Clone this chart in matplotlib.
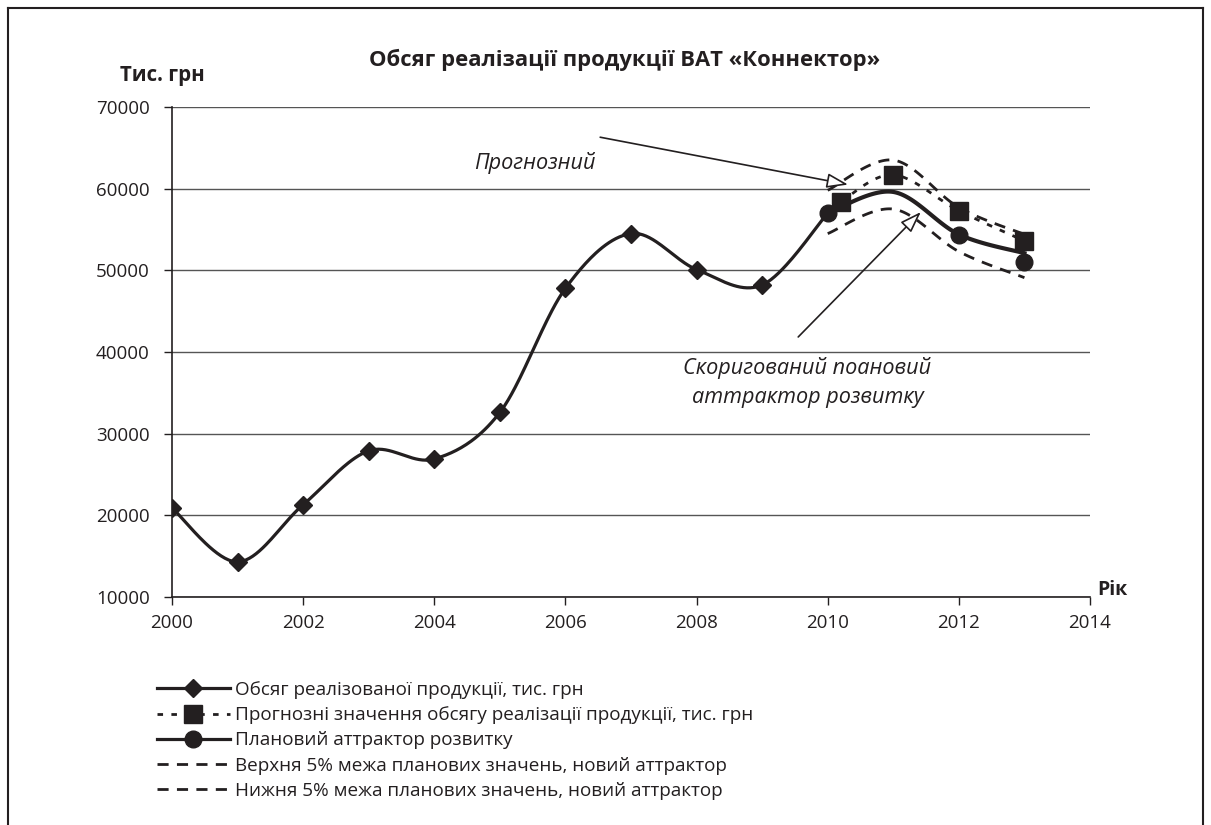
import numpy as np
import matplotlib
matplotlib.use('Agg')
import matplotlib.pyplot as plt
from matplotlib.lines import Line2D

plt.rcParams['font.family'] = ['Open Sans', 'DejaVu Sans']

INK = '#231f20'

# historical sales, thousand UAH
hist_years = [2000, 2001, 2002, 2003, 2004, 2005, 2006, 2007, 2008, 2009, 2010]
hist_vals = [20900, 14300, 21300, 27900, 26900, 32600, 47800, 54500, 50100, 48200, 57000]

# forecast values (squares)
fc_years = [2010.2, 2011, 2012, 2013]
fc_vals = [58400, 61700, 57300, 53600]

# corrected attractor line and planned attractor points
attr_years = [2010, 2011, 2012, 2013]
attr_vals = [57000, 59600, 54400, 52100]
plan_years = [2010, 2012, 2013]
plan_vals = [57000, 54300, 51000]

# 5% bounds
bound_years = [2010, 2011, 2012, 2013]
upper_vals = [59800, 63500, 57700, 54400]
lower_vals = [54500, 57500, 52300, 49100]

x_ticks = [2000, 2002, 2004, 2006, 2008, 2010, 2012, 2014]
y_ticks = [10000, 20000, 30000, 40000, 50000, 60000, 70000]

legend_labels = [
    'Обсяг реалізованої продукції, тис. грн',
    'Прогнозні значення обсягу реалізації продукції, тис. грн',
    'Плановий аттрактор розвитку',
    'Верхня 5% межа планових значень, новий аттрактор',
    'Нижня 5% межа планових значень, новий аттрактор',
]


def smooth(x, y, n=40):
    # excel-like smoothed line (catmull-rom bezier)
    x = np.asarray(x, float)
    y = np.asarray(y, float)
    px = np.concatenate([[x[0]], x, [x[-1]]])
    py = np.concatenate([[y[0]], y, [y[-1]]])
    t = np.linspace(0, 1, n)
    xs, ys = [], []
    for i in range(1, len(px) - 2):
        p0 = np.array([px[i], py[i]])
        p3 = np.array([px[i + 1], py[i + 1]])
        c1 = p0 + (np.array([px[i + 1], py[i + 1]]) - np.array([px[i - 1], py[i - 1]])) / 6
        c2 = p3 - (np.array([px[i + 2], py[i + 2]]) - np.array([px[i], py[i]])) / 6
        b = ((1 - t) ** 3)[:, None] * p0 + (3 * (1 - t) ** 2 * t)[:, None] * c1 \
            + (3 * (1 - t) * t ** 2)[:, None] * c2 + (t ** 3)[:, None] * p3
        xs.append(b[:, 0])
        ys.append(b[:, 1])
    return np.concatenate(xs), np.concatenate(ys)


fig = plt.figure(figsize=(12.11, 8.25), dpi=100)
ax = fig.add_axes([172 / 1211, 1 - 597 / 825, 918 / 1211, 490 / 825])

for yv in y_ticks:
    ax.axhline(yv, color='#555555', lw=1.0, zorder=1)

sx, sy = smooth(hist_years, hist_vals)
ax.plot(sx, sy, color=INK, lw=2.3, zorder=3)
ax.plot(hist_years[:-1], hist_vals[:-1], 'D', color=INK, ms=9, zorder=4)

sx, sy = smooth(attr_years, attr_vals)
ax.plot(sx, sy, color=INK, lw=3.0, zorder=3)
ax.plot(plan_years, plan_vals, 'o', color=INK, ms=12, zorder=4)

sx, sy = smooth(bound_years, upper_vals)
ax.plot(sx, sy, color=INK, lw=2.0, dashes=(4, 3), zorder=3)
sx, sy = smooth(bound_years, lower_vals)
ax.plot(sx, sy, color=INK, lw=2.0, dashes=(4, 3), zorder=3)

sx, sy = smooth(fc_years, fc_vals)
ax.plot(sx, sy, color=INK, lw=2.0, dashes=(2, 3), zorder=3)
ax.plot(fc_years, fc_vals, 's', color=INK, ms=13, zorder=5)

ax.set_xlim(2000, 2014)
ax.set_ylim(10000, 70000)
ax.set_xticks(x_ticks)
ax.set_yticks(y_ticks)
ax.tick_params(axis='both', direction='out', length=6, width=1, color=INK,
               labelsize=13.5, labelcolor=INK)
ax.tick_params(axis='x', pad=6)
ax.tick_params(axis='y', pad=10)
for s in ['top', 'right']:
    ax.spines[s].set_visible(False)
for s in ['left', 'bottom']:
    ax.spines[s].set_color(INK)
    ax.spines[s].set_linewidth(1.2)

arrow = dict(arrowstyle='-|>,head_length=1.3,head_width=0.45', fc='white', ec=INK, lw=1.2,
             shrinkA=0, shrinkB=0)
ax.annotate('', xy=(2010.31, 60500), xytext=(2006.53, 66300), arrowprops=arrow, zorder=6)
ax.annotate('', xy=(2011.42, 57140), xytext=(2009.55, 41840), arrowprops=arrow, zorder=6)
ax.text(2005.54, 63100, 'Прогнозний', style='italic', fontsize=15.6, color=INK,
        ha='center', va='center')
ax.text(2009.69, 36260, 'Скоригований поановий\nаттрактор розвитку', style='italic',
        fontsize=15.6, color=INK, ha='center', va='center', linespacing=1.45)

fig.text(625 / 1211, 1 - 60 / 825, 'Обсяг реалізації продукції ВАТ «Коннектор»',
         fontsize=15.8, fontweight='bold', color=INK, ha='center', va='center')
fig.text(120 / 1211, 1 - 75 / 825, 'Тис. грн', fontsize=14.8, fontweight='bold', color=INK,
         ha='left', va='center')
fig.text(1097 / 1211, 1 - 590 / 825, 'Рік', fontsize=14, fontweight='bold', color=INK,
         ha='left', va='center')

handles = [
    Line2D([], [], color=INK, lw=2.3, marker='D', ms=9),
    Line2D([], [], color=INK, lw=2.0, dashes=(2, 3), marker='s', ms=13),
    Line2D([], [], color=INK, lw=2.3, marker='o', ms=12),
    Line2D([], [], color=INK, lw=2.0, dashes=(4, 3)),
    Line2D([], [], color=INK, lw=2.0, dashes=(4, 3)),
]
fig.legend(handles, legend_labels, loc='upper left', bbox_to_anchor=(140 / 1211, 1 - 664 / 825),
           frameon=False, fontsize=13.6, handlelength=3.85, handletextpad=0.3,
           labelspacing=0.38, labelcolor=INK)

# frame around the figure
fig.add_artist(Line2D([8 / 1211, 8 / 1211], [0, 1 - 8 / 825], color=INK, lw=1.5))
fig.add_artist(Line2D([8 / 1211, 1203 / 1211], [1 - 8 / 825, 1 - 8 / 825], color=INK, lw=1.5))
fig.add_artist(Line2D([1203 / 1211, 1203 / 1211], [0, 1 - 8 / 825], color=INK, lw=1.5))

fig.savefig('out.png', dpi=100)
